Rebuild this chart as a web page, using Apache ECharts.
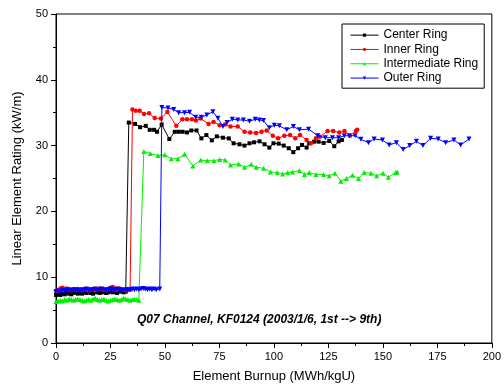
<!DOCTYPE html>
<html>
<head>
<meta charset="utf-8">
<script src="https://cdn.jsdelivr.net/npm/echarts@6/dist/echarts.min.js"></script>
<style>
  html, body { margin: 0; padding: 0; background: #fff; }
  #chart { width: 504px; height: 390px; }
</style>
</head>
<body>
<div id="chart"></div>
<script>
// Element burnup (MWh/kgU) vs. linear element rating (kW/m), per fuel ring
const seriesNames = ['Center Ring', 'Inner Ring', 'Intermediate Ring', 'Outer Ring'];

const centerRing = [
  [0,7.3],[1,7.4],[2,7.3],[3,7.5],[4,7.4],[5,7.6],[6,7.5],[7,7.4],[8,7.6],[9,7.7],
  [10,7.5],[11,7.6],[12,7.5],[13,7.7],[14,7.6],[15,7.8],[16,7.6],[17,7.5],[18,7.7],[19,7.8],
  [20,7.6],[21,7.7],[22,7.8],[23,7.6],[24,7.7],[25,7.9],[26,7.7],[27,7.8],[28,7.6],[29,7.8],
  [30,7.9],[31,7.7],[32,7.8],
  [33.4,33.5],[36.3,33.3],[38.6,32.8],[41.2,33.0],[43.0,32.4],[45.0,32.4],[46.4,32.1],[48.5,33.2],
  [52.0,31.0],[54.5,32.1],[56.3,32.1],[58.1,32.1],[60.1,32.0],[62.1,32.3],[64.5,32.3],[66.7,31.1],
  [69.0,31.6],[71.5,30.8],[73.8,31.4],[76.6,31.2],[79.3,31.1],[81.5,30.35],[84.2,30.2],[86.5,30.0],
  [88.8,30.35],[90.9,30.5],[93.4,30.65],[95.7,30.2],[97.9,29.7],[99.8,30.35],[102.2,30.3],[104.5,30.0],
  [106.8,29.6],[108.9,29.0],[111.1,29.6],[112.9,30.1],[115.0,29.7],[116.2,30.35],[118.4,30.6],[120.5,30.6],
  [122.8,30.4],[125.4,30.7],[127.7,29.9],[129.7,30.65],[131.2,30.85]
];

const innerRing = [
  [0,7.9],[1,8.0],[2,8.3],[3,8.4],[4,8.2],[5,8.3],[6,8.1],[7,8.0],[8,8.2],[9,8.1],
  [10,8.2],[11,8.1],[12,8.0],[13,8.2],[14,8.1],[15,8.0],[16,8.1],[17,8.2],[18,8.0],[19,8.1],
  [20,8.3],[21,8.2],[22,8.1],[23,8.0],[24,8.2],[25,8.4],[26,8.5],[27,8.3],[28,8.1],[29,8.3],
  [30,8.2],[31,8.1],[32,8.0],[33,8.2],[34,8.1],
  [35.1,35.5],[36.6,35.3],[38.4,35.3],[40.4,34.8],[42.7,34.9],[45.3,34.2],[48.1,34.1],[51.1,35.1],
  [55.2,33.0],[58.0,34.0],[60.1,34.0],[62.4,34.0],[64.2,33.8],[66.4,34.1],[70.0,33.3],[72.3,33.6],
  [75.1,33.1],[77.6,33.2],[80.1,32.9],[83.4,32.9],[86.5,32.1],[89.1,32.0],[91.8,31.9],[94.3,32.1],
  [96.7,32.3],[99.5,31.5],[101.9,31.1],[104.8,31.5],[107.4,31.6],[109.8,31.1],[112.0,31.6],[115.0,30.85],
  [117.0,30.35],[119.3,31.1],[121.1,31.35],[124.6,32.2],[127.2,32.2],[130.0,32.0],[132.4,32.2],[134.9,31.5],
  [137.6,32.2],[138.2,32.4]
];

const intermediateRing = [
  [0,6.3],[1,6.4],[2,6.5],[3,6.4],[4,6.6],[5,6.5],[6,6.7],[7,6.6],[8,6.5],[9,6.6],
  [10,6.7],[11,6.6],[12,6.5],[13,6.4],[14,6.5],[15,6.6],[16,6.5],[17,6.7],[18,6.8],[19,6.6],
  [20,6.5],[21,6.6],[22,6.7],[23,6.5],[24,6.4],[25,6.5],[26,6.6],[27,6.7],[28,6.6],[29,6.5],
  [30,6.6],[31,6.8],[32,6.7],[33,6.6],[34,6.5],[35,6.6],[36,6.7],[37,6.6],[38,6.5],
  [40.3,29.1],[43.3,28.8],[46.8,28.5],[49.9,28.6],[52.9,28.0],[56.0,28.0],[59.0,28.7],[62.8,26.9],
  [66.4,27.8],[69.4,27.7],[72.5,27.7],[75.1,27.9],[77.6,27.8],[80.1,27.05],[83.8,27.2],[86.5,26.7],
  [89.6,27.15],[91.9,26.7],[95.3,26.55],[98.4,26.0],[101.5,25.9],[104.0,25.7],[106.3,25.9],[108.6,26.0],
  [111.7,26.2],[114.0,25.6],[116.2,25.9],[119.3,25.6],[122.8,25.6],[125.4,25.4],[128.0,25.8],[130.7,24.6],
  [133.3,25.0],[136.1,25.5],[138.8,25.0],[141.4,25.9],[144.5,25.8],[147.2,25.4],[150.1,25.8],[152.5,25.2],
  [155.9,25.9],[156.6,26.0]
];

const outerRing = [
  [0,7.8],[1,7.9],[2,7.8],[3,8.0],[4,7.9],[5,8.0],[6,8.1],[7,7.9],[8,8.0],[9,8.1],
  [10,8.0],[11,7.9],[12,8.1],[13,8.0],[14,8.2],[15,8.1],[16,8.0],[17,8.1],[18,8.2],[19,8.0],
  [20,8.1],[21,8.2],[22,8.1],[23,8.0],[24,8.1],[25,8.2],[26,8.1],[27,8.0],[28,8.2],[29,8.1],
  [30,7.9],[31,8.0],[32,8.1],[33,8.0],[34,8.1],[35,8.2],[36,8.1],[37,8.2],[38,8.1],[39,8.2],
  [40,8.3],[41,8.2],[42,8.1],[43,8.2],[44,8.1],[45,8.2],[46,8.1],[47.6,8.2],
  [48.6,35.8],[51.4,35.7],[54.0,35.5],[56.3,35.0],[59.0,35.0],[61.3,35.05],[64.1,34.3],[66.7,34.3],
  [69.2,34.65],[72.0,35.15],[74.3,34.15],[76.6,32.9],[78.5,33.5],[80.9,34.0],[83.4,33.9],[86.0,33.9],
  [88.8,33.7],[91.4,34.0],[93.3,33.9],[95.2,33.8],[97.9,32.7],[100.2,33.1],[102.5,33.0],[105.9,32.4],
  [108.9,32.9],[111.7,32.4],[115.9,32.5],[120.1,31.5],[123.6,31.2],[126.9,31.2],[129.7,31.2],[132.3,31.5],
  [134.6,31.5],[137.3,31.5],[139.9,30.95],[143.4,30.45],[146.0,31.0],[149.8,30.85],[152.9,30.1],[156.2,30.45],
  [159.3,29.4],[162.3,30.0],[165.4,30.65],[168.4,30.0],[171.9,31.1],[175.4,31.0],[178.8,30.45],[182.6,30.85],
  [185.7,30.1],[189.5,31.0]
];

const ringColors = ['#000000', '#ff0000', '#00f000', '#0000ff'];
const ringSymbols = ['rect', 'circle', 'triangle', 'triangle'];
const ringSymbolSizes = [4, 4.5, 5, 5];
const ringSymbolRotate = [0, 0, 0, 180];
const ringData = [centerRing, innerRing, intermediateRing, outerRing];

const FONT = '"Liberation Sans", Arial, sans-serif';

const chart = echarts.init(document.getElementById('chart'), null, { renderer: 'canvas' });

chart.setOption({
  animation: false,
  backgroundColor: '#ffffff',
  grid: {
    left: 56, top: 14, width: 437, height: 329,
    show: true, borderColor: '#000', borderWidth: 1, backgroundColor: 'transparent'
  },
  xAxis: {
    type: 'value', min: 0, max: 200, interval: 25,
    name: 'Element Burnup (MWh/kgU)', nameLocation: 'middle', nameGap: 27,
    nameTextStyle: { fontFamily: FONT, fontSize: 13, color: '#000' },
    axisLine: { show: true, lineStyle: { color: '#000', width: 1 } },
    axisTick: { show: true, inside: false, length: 5, lineStyle: { color: '#000' } },
    minorTick: { show: true, splitNumber: 2, length: 3, lineStyle: { color: '#000' } },
    axisLabel: { fontFamily: FONT, fontSize: 11, color: '#000', margin: 8 },
    splitLine: { show: false }
  },
  yAxis: {
    type: 'value', min: 0, max: 50, interval: 10,
    name: 'Linear Element Rating (kW/m)', nameLocation: 'middle', nameGap: 32, nameRotate: 90,
    nameTextStyle: { fontFamily: FONT, fontSize: 13, color: '#000' },
    axisLine: { show: true, lineStyle: { color: '#000', width: 1 } },
    axisTick: { show: true, inside: false, length: 5, lineStyle: { color: '#000' } },
    minorTick: { show: true, splitNumber: 2, length: 3, lineStyle: { color: '#000' } },
    axisLabel: { fontFamily: FONT, fontSize: 11, color: '#000', margin: 8 },
    splitLine: { show: false }
  },
  legend: {
    orient: 'vertical', left: 342, top: 24,
    width: 142,
    padding: [4, 6, 3, 8],
    itemWidth: 28, itemHeight: 4, itemGap: 0,
    borderColor: '#000', borderWidth: 1,
    backgroundColor: '#fff',
    lineStyle: { width: 1 },
    textStyle: { fontFamily: FONT, fontSize: 12, color: '#000', lineHeight: 14.3 },
    data: seriesNames
  },
  graphic: [{
    type: 'text', left: 137, top: 314,
    style: {
      text: 'Q07 Channel, KF0124 (2003/1/6, 1st --> 9th)',
      font: 'italic bold 12px "Liberation Sans", Arial, sans-serif',
      fill: '#000'
    }
  }],
  series: seriesNames.map((name, i) => ({
    name: name,
    type: 'line',
    data: ringData[i],
    symbol: ringSymbols[i],
    symbolSize: ringSymbolSizes[i],
    symbolRotate: ringSymbolRotate[i],
    showAllSymbol: true,
    lineStyle: { color: ringColors[i], width: 1 },
    itemStyle: { color: ringColors[i] },
    z: 2 + i
  }))
});
</script>
</body>
</html>
